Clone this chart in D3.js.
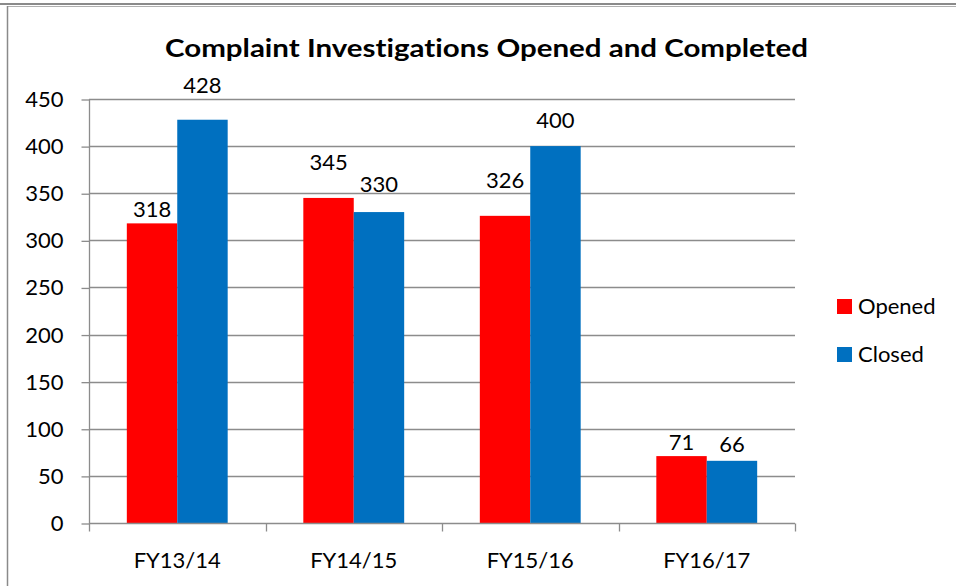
<!DOCTYPE html>
<html>
<head>
<meta charset="utf-8">
<script src="https://cdn.jsdelivr.net/npm/d3@7"></script>
<style>
  html, body { margin: 0; padding: 0; background: #fff; }
  svg { display: block; }
  text { font-family: Lato, "Open Sans", sans-serif; fill: #000; font-variant-ligatures: none; }
</style>
</head>
<body>
<svg id="chart" width="956" height="586"></svg>
<script>
// ---- data ----
const categories = ["FY13/14", "FY14/15", "FY15/16", "FY16/17"];
const seriesNames = ["Opened", "Closed"];
const openedValues = [318, 345, 326, 71];
const closedValues = [428, 330, 400, 66];
const yTicks = [0, 50, 100, 150, 200, 250, 300, 350, 400, 450];
const titleText = "Complaint Investigations Opened and Completed";

// ---- layout / style (not data) ----
const colors = { Opened: "#FF0000", Closed: "#0070C0" };
const gridColor = "#8c8c8c";
const fontSize = "22px";
// extra vertical lift of individual value labels (px), as placed in the original
const labelLift = { Opened: [0, 22, 22, 0], Closed: [21, 14, 12, 3] };
const baseGap = 6;

const svg = d3.select("#chart");

// frame
svg.append("line").attr("x1", 0).attr("x2", 956).attr("y1", 4).attr("y2", 4)
  .attr("stroke", "#8a8a8a").attr("stroke-width", 2);
svg.append("line").attr("x1", 7).attr("x2", 956).attr("y1", 6.5).attr("y2", 6.5)
  .attr("stroke", "#b0b0b0").attr("stroke-width", 1);
svg.append("line").attr("x1", 7.5).attr("x2", 7.5).attr("y1", 6).attr("y2", 586)
  .attr("stroke", "#8a8a8a").attr("stroke-width", 1.5);

const plot = { left: 89, right: 795, top: 99, bottom: 523 };

const x = d3.scaleBand().domain(categories).range([plot.left, plot.right]).padding(0);
const xs = d3.scaleBand().domain(seriesNames).range([0, x.bandwidth()])
  .paddingInner(0).paddingOuter(0.75);
const y = d3.scaleLinear().domain([0, 450]).range([plot.bottom, plot.top]);

// gridlines
svg.append("g").selectAll("line").data(yTicks.filter(t => t > 0)).join("line")
  .attr("x1", plot.left).attr("x2", plot.right)
  .attr("y1", d => Math.round(y(d)) + 0.5).attr("y2", d => Math.round(y(d)) + 0.5)
  .attr("stroke", gridColor).attr("stroke-width", 1.3);

// y axis
const yAxis = d3.axisLeft(y).tickValues(yTicks).tickSize(8).tickPadding(18);
const gy = svg.append("g").attr("transform", `translate(${plot.left + 0.5},0.5)`).call(yAxis);
gy.select(".domain").attr("stroke", gridColor).attr("stroke-width", 1.3)
  .attr("d", `M0,${y(450)}V${y(0)}`);
gy.selectAll(".tick line").attr("stroke", gridColor).attr("stroke-width", 1.3);
gy.selectAll(".tick text").style("font-size", fontSize).style("font-family", "Lato, sans-serif")
  .attr("fill", "#000");

// bars
const rows = categories.map((c, i) => ({ cat: c, i, Opened: openedValues[i], Closed: closedValues[i] }));
const groups = svg.append("g").selectAll("g").data(rows).join("g")
  .attr("transform", d => `translate(${x(d.cat)},0)`);
groups.selectAll("rect").data(d => seriesNames.map(s => ({ s, v: d[s], i: d.i }))).join("rect")
  .attr("x", d => xs(d.s)).attr("width", xs.bandwidth())
  .attr("y", d => y(d.v)).attr("height", d => y(0) - y(d.v))
  .attr("fill", d => colors[d.s]);

// x axis
const xAxis = d3.axisBottom(x).tickSize(0).tickPadding(0);
const gx = svg.append("g").attr("transform", `translate(0,${plot.bottom + 0.5})`).call(xAxis);
gx.select(".domain").attr("stroke", gridColor).attr("stroke-width", 1.3)
  .attr("d", `M${plot.left},0H${plot.right}`);
gx.selectAll(".tick text").attr("y", 44).attr("dy", 0)
  .style("font-size", fontSize).style("font-family", "Lato, sans-serif").attr("fill", "#000");
// category boundary ticks
const bounds = categories.map(c => x(c)).concat([x(categories[categories.length - 1]) + x.bandwidth()]);
gx.append("g").selectAll("line").data(bounds).join("line")
  .attr("x1", d => Math.round(d) + 0.5).attr("x2", d => Math.round(d) + 0.5)
  .attr("y1", 0).attr("y2", 8).attr("stroke", gridColor).attr("stroke-width", 1.3);

// value labels
groups.selectAll("text.val").data(d => seriesNames.map(s => ({ s, v: d[s], i: d.i }))).join("text")
  .attr("class", "val")
  .attr("x", d => xs(d.s) + xs.bandwidth() / 2)
  .attr("y", d => y(d.v) - baseGap - labelLift[d.s][d.i])
  .attr("text-anchor", "middle")
  .style("font-size", fontSize)
  .text(d => d.v);

// title
svg.append("text").attr("x", 486.5).attr("y", 57).attr("text-anchor", "middle")
  .style("font-size", "24.5px").style("font-weight", "bold")
  .attr("textLength", 643).attr("lengthAdjust", "spacingAndGlyphs")
  .text(titleText);

// legend
const legend = svg.append("g").selectAll("g").data(seriesNames).join("g")
  .attr("transform", (d, i) => `translate(837,${299 + i * 48})`);
legend.append("rect").attr("width", 15).attr("height", 15).attr("fill", d => colors[d]);
legend.append("text").attr("x", 21).attr("y", 7.5).attr("dy", "0.36em")
  .style("font-size", fontSize).text(d => d);
</script>
</body>
</html>
